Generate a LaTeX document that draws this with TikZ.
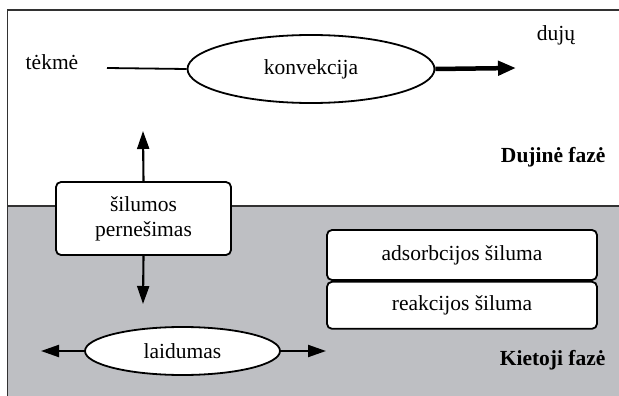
\documentclass[tikz,border=0pt]{standalone}
\usepackage{fontspec}
\setmainfont{Liberation Serif}
\usetikzlibrary{arrows.meta,shapes.geometric}
\definecolor{solidgray}{RGB}{190,191,195}
\definecolor{framegray}{RGB}{50,50,50}
\begin{document}
\begin{tikzpicture}[x=1pt,y=-1pt,
  txt/.style={font=\fontsize{21.5}{25}\selectfont},
  btxt/.style={font=\fontsize{21.5}{25}\selectfont\bfseries},
  ell/.style={ellipse,draw,line width=1.8pt,fill=white,inner sep=0pt,font=\fontsize{21.5}{25}\selectfont},
  rbox/.style={draw,line width=1.8pt,fill=white,rounded corners=5pt,inner sep=0pt,font=\fontsize{21.5}{25}\selectfont,align=center},
  arr/.style={line width=2.1pt,-{Triangle[length=18pt,width=12pt]}},
  thickarr/.style={line width=4.5pt,-{Triangle[length=18pt,width=14pt]}}]
\useasboundingbox (0,0) rectangle (619,396);
% solid phase background
\fill[solidgray] (7.5,206) rectangle (619,396);
\draw[framegray,line width=1.5pt] (7.5,206) -- (619,206);
\draw[framegray,line width=1.6pt] (7.5,396) -- (7.5,10) -- (619,10);
% gas phase
\node[txt] (tekme) at (52,62) {tėkmė};
\node[txt] (duju) at (556,35) {dujų};
\node[btxt,anchor=east] (dujine) at (609,157) {Dujinė fazė};
\node[ell,minimum width=247pt,minimum height=68pt] (konv) at (311,69) {konvekcija};
\coordinate (flowstart) at (107,68);
\coordinate (flowend) at (516,68);
\draw[line width=1.8pt] (flowstart) -- (konv.west);
\draw[thickarr] (konv.east) -- (flowend);
% heat transfer box
\node[rbox,minimum width=175pt,minimum height=73pt] (siluma) at (143.5,218.5) {šilumos\\pernešimas};
\coordinate (uptip) at (143,131);
\coordinate (downtip) at (143,304);
\draw[arr] (siluma.north) -- (uptip);
\draw[arr] (siluma.south) -- (downtip);
% conduction
\node[ell,minimum width=195pt,minimum height=48pt] (laid) at (182.5,351) {laidumas};
\coordinate (lefttip) at (41,351);
\coordinate (righttip) at (326,351);
\draw[arr] (laid.west) -- (lefttip);
\draw[arr] (laid.east) -- (righttip);
% heats
\node[rbox,minimum width=270pt,minimum height=50pt] (ads) at (462,255) {adsorbcijos šiluma};
\node[rbox,minimum width=270pt,minimum height=47pt,anchor=north] (reak) at (ads.south) {reakcijos šiluma};
\node[btxt,anchor=east] (kietoji) at (609,360) {Kietoji fazė};
\end{tikzpicture}
\end{document}
